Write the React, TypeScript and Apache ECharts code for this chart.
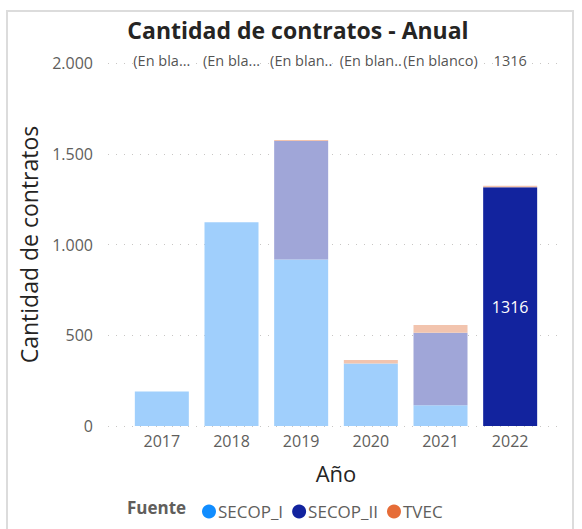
import React, { useEffect, useRef } from "react";
import * as echarts from "echarts";

const categories = ["2017", "2018", "2019", "2020", "2021", "2022"];
const secopI = [190, 1122, 918, 345, 114, 0];
const secopII = [0, 0, 652, 0, 400, 1316];
const tvec = [0, 0, 6, 19, 42, 8];
const topLabels = ["(En bla...", "(En bla...", "(En blan..", "(En blan..", "(En blanco)", "1316"];
const yTicks = [0, 500, 1000, 1500, 2000];
const highlighted = [false, false, false, false, false, true];

const FONT = "'Open Sans', 'Noto Sans', sans-serif";

export default function App() {
  const ref = useRef<HTMLDivElement>(null);
  useEffect(() => {
    document.body.style.margin = "0";
    const chart = echarts.init(ref.current!, undefined, { renderer: "svg" });
    const yMax = yTicks[yTicks.length - 1];
    const fmt = (v: number) => v.toLocaleString("de-DE");
    chart.setOption({
      animation: false,
      textStyle: { fontFamily: FONT },
      title: {
        text: "Cantidad de contratos - Anual",
        left: 293,
        textAlign: "center",
        top: 13,
        textStyle: { fontSize: 23, fontWeight: "bold", color: "#252423", fontFamily: FONT },
      },
      graphic: [
        {
          type: "rect",
          shape: { x: 7, y: 11, width: 566, height: 540 },
          style: { fill: "none", stroke: "#dcdcdc", lineWidth: 2 },
          silent: true,
        },
        {
          type: "text",
          left: 127,
          top: 499,
          style: { text: "Fuente", fontSize: 17, fontWeight: "bold", fill: "#605E5C", fontFamily: FONT },
        },
      ],
      legend: {
        left: 197,
        top: 498,
        icon: "circle",
        itemWidth: 14,
        itemHeight: 14,
        itemGap: 9,
        textStyle: { fontSize: 17, color: "#605E5C", fontFamily: FONT, padding: [0, 0, 0, -3] },
        data: ["SECOP_I", "SECOP_II", "TVEC"],
      },
      grid: [
        { left: 108, right: 22, top: 63, bottom: 103 },
        { left: 127, right: 37, top: 63, bottom: 103 },
      ],
      xAxis: [
        { type: "category", gridIndex: 0, data: categories, show: false },
        {
          type: "category",
          gridIndex: 1,
          data: categories,
          axisLine: { show: false },
          axisTick: { show: false },
          axisLabel: { fontSize: 16, color: "#605E5C", margin: 7, fontFamily: FONT },
          name: "Año",
          nameLocation: "middle",
          nameGap: 36,
          nameTextStyle: { fontSize: 22, color: "#252423", fontFamily: FONT },
        },
      ],
      yAxis: [
        {
          type: "value",
          gridIndex: 0,
          min: 0,
          max: yMax,
          interval: 500,
          axisLine: { show: false },
          axisTick: { show: false },
          axisLabel: { fontSize: 16, color: "#605E5C", margin: 15, formatter: fmt, fontFamily: FONT },
          splitLine: { lineStyle: { color: "#c8c6c4", type: [1, 7], width: 1 } },
          name: "Cantidad de contratos",
          nameLocation: "middle",
          nameGap: 68,
          nameTextStyle: { fontSize: 23, color: "#252423", fontFamily: FONT },
        },
        { type: "value", gridIndex: 1, min: 0, max: yMax, interval: 500, show: false },
      ],
      series: [
        {
          name: "SECOP_I",
          type: "bar",
          stack: "a",
          xAxisIndex: 1,
          yAxisIndex: 1,
          barWidth: 54,
          itemStyle: { color: "#118DFF" },
          data: secopI.map((v, i) => ({
            value: v,
            itemStyle: { color: highlighted[i] ? "#118DFF" : "#A0CFFC" },
          })),
        },
        {
          name: "SECOP_II",
          type: "bar",
          stack: "a",
          xAxisIndex: 1,
          yAxisIndex: 1,
          barWidth: 54,
          itemStyle: { color: "#12239E" },
          data: secopII.map((v, i) => ({
            value: v,
            itemStyle: { color: highlighted[i] ? "#12239E" : "#A0A6D8" },
            label: {
              show: highlighted[i],
              position: "inside",
              color: "#ffffff",
              fontSize: 16,
              fontFamily: FONT,
            },
          })),
        },
        {
          name: "TVEC",
          type: "bar",
          stack: "a",
          xAxisIndex: 1,
          yAxisIndex: 1,
          barWidth: 54,
          itemStyle: { color: "#E66C37" },
          data: tvec.map((v) => ({ value: v, itemStyle: { color: "#F2C4AE" } })),
        },
        {
          name: "labels",
          type: "scatter",
          xAxisIndex: 1,
          yAxisIndex: 1,
          symbolSize: 1,
          itemStyle: { color: "rgba(0,0,0,0)" },
          data: categories.map(() => yMax),
          label: {
            show: true,
            position: "inside",
            offset: [0, -3],
            fontSize: 14.5,
            color: "#252423",
            backgroundColor: "#ffffff",
            padding: [0, 0],
            fontFamily: FONT,
            formatter: (p: any) => topLabels[p.dataIndex],
          },
        },
      ],
    });
    return () => chart.dispose();
  }, []);
  return <div ref={ref} style={{ width: 582, height: 529 }} />;
}
